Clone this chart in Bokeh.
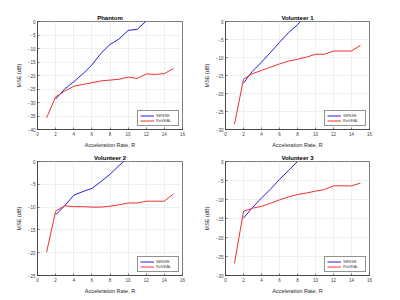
from bokeh.plotting import figure
from bokeh.layouts import gridplot
from bokeh.models import Range1d, FixedTicker, Legend, LegendItem
from bokeh.embed import file_html
from bokeh.resources import INLINE

R_sense_ph = [2, 3, 4, 5, 6, 7, 8, 9, 10, 11, 12]
sense_ph = [-28.7, -25.0, -22.3, -19.4, -16.1, -11.8, -8.5, -6.5, -3.3, -2.9, 0.2]
R_reveal = [1, 2, 3, 4, 5, 6, 7, 8, 9, 10, 11, 12, 13, 14, 15]
reveal_ph = [-35.7, -27.9, -25.8, -24.0, -23.3, -22.7, -22.0, -21.7, -21.4, -20.6, -21.1, -19.4, -19.6, -19.3, -17.4]

R_sense_v1 = [2, 3, 4, 5, 6, 7, 8, 9]
sense_v1 = [-17.1, -13.8, -11.3, -8.6, -5.8, -3.1, -0.9, 2.0]
reveal_v1 = [-28.5, -16.0, -14.5, -13.6, -12.7, -11.8, -11.0, -10.5, -9.9, -9.1, -9.1, -8.2, -8.2, -8.2, -6.6]

R_sense_v2 = [2, 3, 4, 5, 6, 7, 8, 9, 10]
sense_v2 = [-11.7, -9.7, -7.4, -6.6, -5.9, -4.4, -2.8, -0.9, 0.9]
reveal_v2 = [-19.9, -10.9, -9.7, -9.9, -9.9, -10.0, -10.0, -9.8, -9.5, -9.1, -9.1, -8.7, -8.7, -8.7, -7.1]

R_sense_v3 = [2, 3, 4, 5, 6, 7, 8]
sense_v3 = [-14.9, -12.1, -9.6, -7.3, -4.7, -2.4, 0.0]
reveal_v3 = [-26.8, -13.1, -12.3, -11.8, -11.0, -10.1, -9.3, -8.7, -8.3, -7.8, -7.4, -6.4, -6.4, -6.4, -5.7]

titles = ["Phantom", "Volunteer 1", "Volunteer 2", "Volunteer 3"]
y_mins = [-40, -30, -25, -30]
x_ticks = [0, 2, 4, 6, 8, 10, 12, 14, 16]
FONT = "Liberation Sans"

panels = [
    (R_sense_ph, sense_ph, reveal_ph),
    (R_sense_v1, sense_v1, reveal_v1),
    (R_sense_v2, sense_v2, reveal_v2),
    (R_sense_v3, sense_v3, reveal_v3),
]

borders = [
    dict(l=37, r=18, t=21, b=16),
    dict(l=24, r=23, t=21, b=16),
    dict(l=37, r=18, t=11, b=25),
    dict(l=24, r=23, t=11, b=25),
]

figs = []
for i, (rs, s, rv) in enumerate(panels):
    b = borders[i]
    fh = 113 if i < 2 else 114
    p = figure(width=b["l"] + 145 + b["r"], height=b["t"] + fh + b["b"], output_backend="svg",
               toolbar_location=None,
               x_range=Range1d(0, 16), y_range=Range1d(y_mins[i], 0),
               min_border_left=b["l"], min_border_right=b["r"],
               min_border_top=b["t"], min_border_bottom=b["b"])
    p.title.text = titles[i]
    p.title.text_font = FONT
    p.title.text_font_size = "6px"
    p.title.text_font_style = "bold"
    p.title.text_color = "#000000"
    p.title.align = "center"
    p.title.standoff = 1
    p.title.offset = 0

    yt = list(range(y_mins[i], 1, 5))
    p.yaxis.ticker = FixedTicker(ticks=yt)
    p.xaxis.ticker = FixedTicker(ticks=x_ticks)
    for ax in (p.xaxis[0], p.yaxis[0]):
        ax.major_label_text_font = FONT
        ax.major_label_text_font_size = "4.5px"
        ax.major_label_text_color = "#404040"
        ax.axis_label_text_font = FONT
        ax.axis_label_text_font_size = "5.5px"
        ax.axis_label_text_font_style = "normal"
        ax.axis_label_text_color = "#262626"
        ax.major_tick_in = 2
        ax.major_tick_out = 0
        ax.minor_tick_in = 0
        ax.minor_tick_out = 0
        ax.major_label_standoff = 2
        ax.axis_label_standoff = 3
        ax.axis_line_color = "#262626"
        ax.axis_line_width = 0.6
        ax.major_tick_line_color = "#262626"
        ax.major_tick_line_width = 0.6
    p.xaxis.axis_label = "Acceleration Rate, R"
    p.yaxis.axis_label = "MSE (dB)"
    p.grid.grid_line_color = "#e6e6e6"
    p.grid.grid_line_width = 0.6
    p.outline_line_color = "#262626"
    p.outline_line_width = 0.6
    p.outline_line_alpha = 1.0

    l1 = p.line(rs, s, line_color="#2020e0", line_width=1.0)
    l2 = p.line(R_reveal, rv, line_color="#f03030", line_width=1.0)
    leg = Legend(items=[LegendItem(label="SENSE", renderers=[l1]),
                        LegendItem(label="ReVEAL", renderers=[l2])],
                 location="bottom_right")
    leg.label_text_font = FONT
    leg.label_text_font_size = "4px"
    leg.label_height = 5
    leg.label_text_line_height = 1.0
    leg.glyph_height = 5
    leg.glyph_width = 14
    leg.spacing = 0
    leg.padding = 2
    leg.margin = 3
    leg.label_standoff = 2
    leg.border_line_color = "#262626"
    leg.border_line_width = 0.5
    p.add_layout(leg)
    figs.append(p)

grid = gridplot([[figs[0], figs[1]], [figs[2], figs[3]]], toolbar_location=None)
open("out.html", "w").write(file_html(grid, INLINE))
